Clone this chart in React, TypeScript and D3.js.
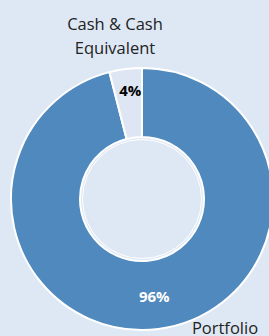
import * as d3 from 'd3';
import React, { useRef, useEffect } from 'react';

const categories = ['Portfolio', 'Cash & Cash Equivalent'];
const values = [96, 4];
const valueLabels = ['96%', '4%'];
const colors = ['#4f89bd', '#dfe6f3'];

function DonutChart({ width, height }: { width: number; height: number }) {
    const ref = useRef<SVGSVGElement>(null);

    useEffect(() => {
        const svg = d3.select(ref.current);
        svg.selectAll('*').remove();

        const cx = 142, cy = 199;
        const outer = 131, inner = 62;

        svg.append('rect').attr('width', width).attr('height', height).attr('fill', '#dee8f4');

        const pie = d3.pie<number>().sort(null).value((d) => d);
        const arcs = pie(values);
        const arc = d3.arc<d3.PieArcDatum<number>>().innerRadius(inner).outerRadius(outer);

        const g = svg.append('g').attr('transform', `translate(${cx},${cy})`);

        g.selectAll('path.slice')
            .data(arcs)
            .enter()
            .append('path')
            .attr('class', 'slice')
            .attr('d', arc)
            .attr('fill', (d, i) => colors[i])
            .attr('stroke', '#ffffff')
            .attr('stroke-width', 2);

        // inner ring outline
        g.append('circle').attr('r', inner - 2.5).attr('fill', 'none').attr('stroke', '#ffffff').attr('stroke-width', 1);

        // value labels
        const labelRadius = [98, 110];
        g.selectAll('text.val')
            .data(arcs)
            .enter()
            .append('text')
            .attr('class', 'val')
            .attr('x', (d, i) => Math.sin((d.startAngle + d.endAngle) / 2) * labelRadius[i] + (i === 1 ? 2 : 0))
            .attr('y', (d, i) => -Math.cos((d.startAngle + d.endAngle) / 2) * labelRadius[i])
            .attr('text-anchor', 'middle')
            .attr('dominant-baseline', 'central')
            .attr('font-family', 'Open Sans, sans-serif')
            .attr('font-weight', 'bold')
            .attr('font-size', 15)
            .attr('fill', (d, i) => (i === 0 ? '#ffffff' : '#000000'))
            .text((d, i) => valueLabels[i]);

        // category labels
        const font = 'Open Sans, sans-serif';
        svg.append('text')
            .attr('x', 225)
            .attr('y', 334)
            .attr('text-anchor', 'middle')
            .attr('font-family', font)
            .attr('font-size', 16.5)
            .attr('fill', '#222')
            .text(categories[0]);

        const cash = svg.append('text')
            .attr('text-anchor', 'middle')
            .attr('font-family', font)
            .attr('font-size', 16.5)
            .attr('fill', '#222');
        cash.append('tspan').attr('x', 115).attr('y', 30).text('Cash & Cash');
        cash.append('tspan').attr('x', 115).attr('y', 54).text('Equivalent');
    }, [width, height]);

    return <svg ref={ref} width={width} height={height} style={{ position: 'absolute', left: 0, top: 0 }} />;
}

export default function App() {
    return <DonutChart width={269} height={336} />;
}
